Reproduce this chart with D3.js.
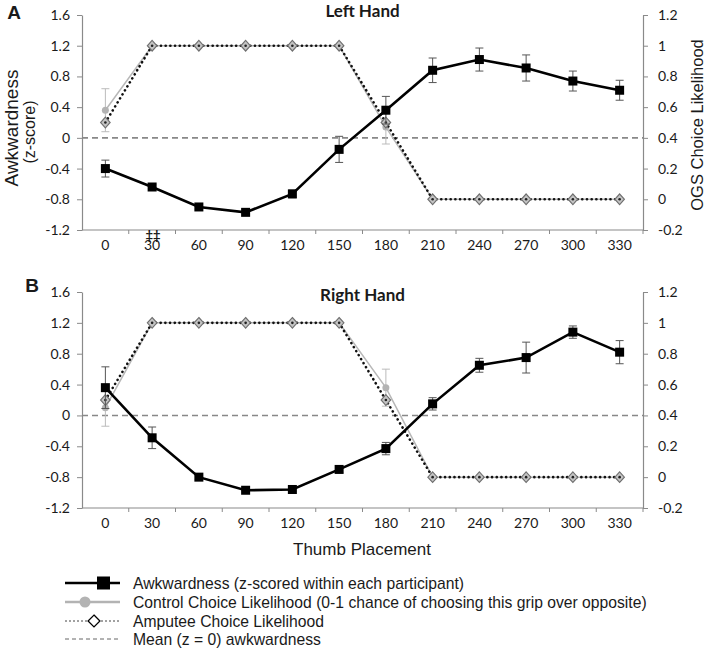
<!DOCTYPE html>
<html>
<head>
<meta charset="utf-8">
<script src="https://cdn.jsdelivr.net/npm/d3@7"></script>
<style>
body{margin:0;background:#fff}
text{fill:#1a1a1a}
</style>
</head>
<body>
<svg id="chart" width="709" height="649"></svg>
<script>
"use strict"

// categories and tick labels
const placements=["0","30","60","90","120","150","180","210","240","270","300","330"];
const leftTicks=[-1.2,-0.8,-0.4,0,0.4,0.8,1.2,1.6];
const rightTicks=[-0.2,0,0.2,0.4,0.6,0.8,1,1.2];

// panel A - left hand
const leftAwk=[-0.40,-0.64,-0.90,-0.97,-0.73,-0.15,0.36,0.88,1.02,0.91,0.74,0.62];
const leftAwkErr=[0.11,0.03,0.03,0.03,0.05,0.17,0.18,0.16,0.15,0.17,0.13,0.13];
const leftControl=[0.58,1,1,1,1,1,0.47,0,0,0,0,0];
const leftControlErr=[0.14,0,0,0,0,0,0.11,0,0,0,0,0];
const leftAmputee=[0.5,1,1,1,1,1,0.5,0,0,0,0,0];

// panel B - right hand
const rightAwk=[0.36,-0.29,-0.80,-0.97,-0.96,-0.70,-0.43,0.15,0.65,0.75,1.08,0.82];
const rightAwkErr=[0.27,0.14,0.03,0.02,0.02,0.04,0.08,0.08,0.09,0.20,0.08,0.15];
const rightControl=[0.45,1,1,1,1,1,0.58,0,0,0,0,0];
const rightControlErr=[0.12,0,0,0,0,0,0.12,0,0,0,0,0];
const rightAmputee=[0.5,1,1,1,1,1,0.5,0,0,0,0,0];

const legendLabels=[
  "Awkwardness (z-scored within each participant)",
  "Control Choice Likelihood (0-1 chance of choosing this grip over opposite)",
  "Amputee Choice Likelihood",
  "Mean (z = 0) awkwardness"
];

const svg=d3.select("#chart");
const plotLeft=82, plotRight=643;
const tickFont="Lato, 'Open Sans', sans-serif";
const textFont="'Liberation Sans', Arial, sans-serif";

const x=d3.scaleBand().domain(placements).range([plotLeft,plotRight]).paddingInner(0).paddingOuter(0);
const cx=d=>x(d)+x.bandwidth()/2;

function fmtLeft(d){ return d===0?"0":d.toFixed(1); }
function fmtRight(d){ return (d===0||d===1)?String(d):d.toFixed(1); }

/**
 * draws one panel (axes, mean line, three series)
 */
function drawPanel(top,bottom,title,letter,awk,awkErr,control,controlErr,amputee){
  const g=svg.append("g");
  const yL=d3.scaleLinear().domain([-1.2,1.6]).range([bottom,top]);
  const yR=d3.scaleLinear().domain([-0.2,1.2]).range([bottom,top]);

  // left axis
  const axL=g.append("g").attr("transform","translate("+plotLeft+",0)")
    .call(d3.axisLeft(yL).tickValues(leftTicks).tickFormat(fmtLeft).tickSize(5).tickPadding(7).tickSizeOuter(0));
  // right axis
  const axR=g.append("g").attr("transform","translate("+plotRight+",0)")
    .call(d3.axisRight(yR).tickValues(rightTicks).tickFormat(fmtRight).tickSize(5).tickPadding(10).tickSizeOuter(0));
  // bottom axis, labels only
  const axB=g.append("g").attr("transform","translate(0,"+bottom+")")
    .call(d3.axisBottom(x).tickSize(0).tickPadding(10));
  axB.select(".domain").remove();
  g.append("line").attr("x1",plotLeft).attr("x2",plotRight).attr("y1",bottom).attr("y2",bottom)
    .attr("stroke","#8a8a8a").attr("stroke-width",1.2);
  // tick marks on band boundaries
  g.selectAll(".xtick").data(placements.slice(1)).enter().append("line")
    .attr("x1",d=>x(d)).attr("x2",d=>x(d)).attr("y1",bottom).attr("y2",bottom+4)
    .attr("stroke","#8a8a8a");
  g.append("line").attr("x1",plotRight).attr("x2",plotRight).attr("y1",bottom).attr("y2",bottom+4).attr("stroke","#8a8a8a");

  [axL,axR,axB].forEach(a=>{
    a.selectAll(".domain").attr("stroke","#8a8a8a").attr("stroke-width",1.2);
    a.selectAll(".tick line").attr("stroke","#8a8a8a");
    a.selectAll("text").attr("font-family",tickFont).attr("font-size",14).attr("fill","#1a1a1a");
  });

  // mean line
  g.append("line").attr("x1",plotLeft).attr("x2",plotRight).attr("y1",yL(0)).attr("y2",yL(0))
    .attr("stroke","#888").attr("stroke-width",1.6).attr("stroke-dasharray","6,4");

  // control series (grey)
  const ctlLine=d3.line().x((d,i)=>cx(placements[i])).y(d=>yR(d));
  g.append("path").datum(control).attr("d",ctlLine).attr("fill","none")
    .attr("stroke","#b8b8b8").attr("stroke-width",1.5);
  control.forEach((v,i)=>{
    if(controlErr[i]>0){
      const xx=cx(placements[i]);
      g.append("line").attr("x1",xx).attr("x2",xx).attr("y1",yR(v-controlErr[i])).attr("y2",yR(v+controlErr[i])).attr("stroke","#bbb");
      [v-controlErr[i],v+controlErr[i]].forEach(e=>g.append("line").attr("x1",xx-4).attr("x2",xx+4).attr("y1",yR(e)).attr("y2",yR(e)).attr("stroke","#bbb"));
    }
  });
  g.selectAll(".ctl").data(control).enter().append("circle")
    .attr("cx",(d,i)=>cx(placements[i])).attr("cy",d=>yR(d)).attr("r",3.5).attr("fill","#b3b3b3");

  // amputee series (dotted)
  g.append("path").datum(amputee).attr("d",ctlLine).attr("fill","none")
    .attr("stroke","#111").attr("stroke-width",2.6).attr("stroke-linecap","round").attr("stroke-dasharray","0.1,4.6");
  const diam=d3.symbol().type(d3.symbolDiamond2).size(72);
  g.selectAll(".amp").data(amputee).enter().append("path")
    .attr("d",diam).attr("transform",(d,i)=>"translate("+cx(placements[i])+","+yR(d)+") scale(0.9,1)")
    .attr("fill","#c4c4c4").attr("stroke","#6f6f6f").attr("stroke-width",1.2);
  g.selectAll(".ampdot").data(amputee).enter().append("circle")
    .attr("cx",(d,i)=>cx(placements[i])).attr("cy",d=>yR(d)).attr("r",1.3).attr("fill","#222");

  // awkwardness series
  const awkLine=d3.line().x((d,i)=>cx(placements[i])).y(d=>yL(d));
  awk.forEach((v,i)=>{
    const xx=cx(placements[i]);
    g.append("line").attr("x1",xx).attr("x2",xx).attr("y1",yL(v-awkErr[i])).attr("y2",yL(v+awkErr[i])).attr("stroke","#555");
    [v-awkErr[i],v+awkErr[i]].forEach(e=>g.append("line").attr("x1",xx-4).attr("x2",xx+4).attr("y1",yL(e)).attr("y2",yL(e)).attr("stroke","#555"));
  });
  g.append("path").datum(awk).attr("d",awkLine).attr("fill","none")
    .attr("stroke","#000").attr("stroke-width",2.6);
  g.selectAll(".awk").data(awk).enter().append("rect")
    .attr("x",(d,i)=>cx(placements[i])-4.5).attr("y",d=>yL(d)-4.5)
    .attr("width",9).attr("height",9).attr("fill","#000");

  // titles
  g.append("text").attr("x",(plotLeft+plotRight)/2).attr("y",title.y)
    .attr("text-anchor","middle").attr("font-family",tickFont).attr("font-weight","bold").attr("font-size",17)
    .text(title.t);
  g.append("text").attr("x",letter.x).attr("y",letter.y).attr("text-anchor","middle")
    .attr("font-family",textFont).attr("font-weight","bold").attr("font-size",19).text(letter.t);
}

drawPanel(15,230,{t:"Left Hand",y:17},{t:"A",x:14,y:19},leftAwk,leftAwkErr,leftControl,leftControlErr,leftAmputee);
drawPanel(292,508,{t:"Right Hand",y:301},{t:"B",x:32,y:292},rightAwk,rightAwkErr,rightControl,rightControlErr,rightAmputee);

// significance mark under 30 in panel A
svg.append("text").attr("x",cx("30")+1).attr("y",240).attr("text-anchor","middle")
  .attr("font-family",tickFont).attr("font-weight","bold").attr("font-size",13).text("\u2021\u2021");

// axis titles
svg.append("text").attr("transform","translate(18,128) rotate(-90)").attr("text-anchor","middle")
  .attr("font-family",textFont).attr("font-size",19).text("Awkwardness");
svg.append("text").attr("transform","translate(35,132) rotate(-90)").attr("text-anchor","middle")
  .attr("font-family",textFont).attr("font-size",16).text("(z-score)");
svg.append("text").attr("transform","translate(703,125) rotate(-90)").attr("text-anchor","middle")
  .attr("font-family",textFont).attr("font-size",16.5).text("OGS Choice Likelihood");
svg.append("text").attr("x",362).attr("y",555).attr("text-anchor","middle")
  .attr("font-family",textFont).attr("font-size",17).text("Thumb Placement");

// legend
const legY=[583,602,621,639];
const leg=svg.append("g");
leg.selectAll("text").data(legendLabels).enter().append("text")
  .attr("x",133).attr("y",(d,i)=>legY[i]+5.5).attr("font-family",textFont).attr("font-size",15.7).text(d=>d);
leg.append("line").attr("x1",65).attr("x2",120).attr("y1",legY[0]).attr("y2",legY[0]).attr("stroke","#000").attr("stroke-width",2.6);
leg.append("rect").attr("x",97).attr("y",legY[0]-6.5).attr("width",13).attr("height",13).attr("fill","#000");
leg.append("line").attr("x1",65).attr("x2",120).attr("y1",legY[1]).attr("y2",legY[1]).attr("stroke","#b3b3b3").attr("stroke-width",2.6);
leg.append("circle").attr("cx",85).attr("cy",legY[1]).attr("r",5.5).attr("fill","#b3b3b3");
leg.append("line").attr("x1",65).attr("x2",120).attr("y1",legY[2]).attr("y2",legY[2]).attr("stroke","#444").attr("stroke-width",1).attr("stroke-dasharray","2,2");
leg.append("path").attr("d",d3.symbol().type(d3.symbolDiamond2).size(90)).attr("transform","translate(94,"+legY[2]+")")
  .attr("fill","#fff").attr("stroke","#000").attr("stroke-width",1.3);
leg.append("line").attr("x1",65).attr("x2",120).attr("y1",legY[3]).attr("y2",legY[3]).attr("stroke","#666").attr("stroke-width",1).attr("stroke-dasharray","4,3");
</script>
</body>
</html>
